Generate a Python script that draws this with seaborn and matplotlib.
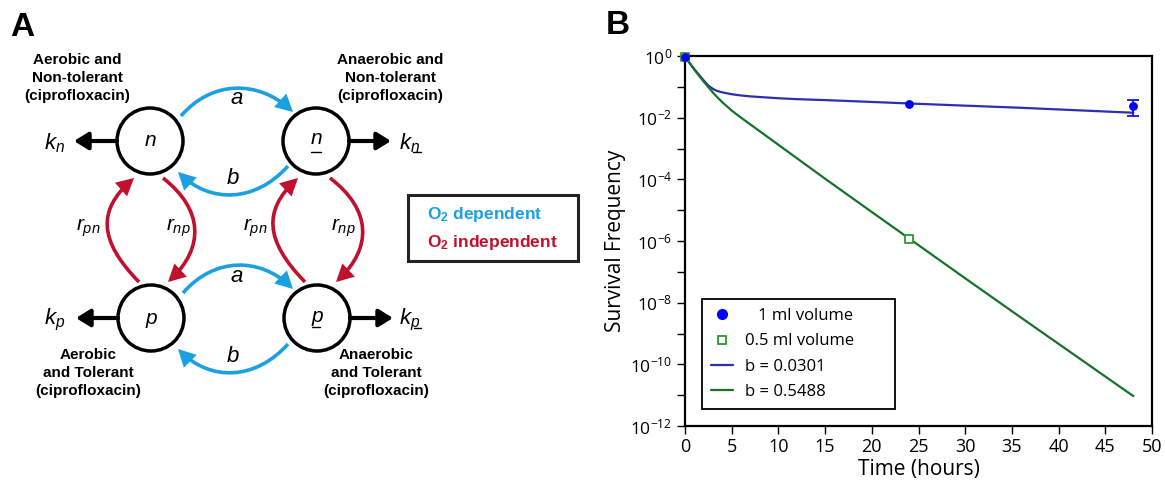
import numpy as np
import pandas as pd
import matplotlib
matplotlib.use("Agg")
import matplotlib.pyplot as plt
import seaborn as sns
from matplotlib.patches import Circle, FancyArrowPatch, Rectangle
from matplotlib.path import Path
from matplotlib.lines import Line2D

# ---------------- data (panel B) ----------------
fit_time = [0, 0.5, 1, 1.5, 2, 2.5, 3, 3.5, 4, 5, 6, 7, 8, 10, 12, 15, 20, 24, 30, 36, 42, 48]
fit_b0301_log10 = [-0.02, -0.23, -0.43, -0.61, -0.79, -0.96, -1.07, -1.14, -1.18, -1.24, -1.28,
                   -1.31, -1.33, -1.37, -1.40, -1.43, -1.49, -1.54, -1.61, -1.68, -1.76, -1.84]
fit_b5488_log10 = [-0.02, -0.23, -0.44, -0.64, -0.83, -1.01, -1.19, -1.35, -1.50, -1.77, -2.00,
                   -2.22, -2.44, -2.88, -3.32, -3.98, -5.06, -5.92, -7.21, -8.49, -9.76, -11.03]
obs_1ml_time = [0, 24, 48]
obs_1ml_surv = [0.95, 0.028, 0.024]
obs_1ml_err = [0.0, 0.0, 0.013]
obs_05ml_time = [0, 24]
obs_05ml_surv = [0.95, 1.2e-6]
x_tick_values = [0, 5, 10, 15, 20, 25, 30, 35, 40, 45, 50]
y_tick_exponents = [0, -1, -2, -3, -4, -5, -6, -7, -8, -9, -10, -11, -12]
legend_labels = ["1 ml volume", "0.5 ml volume", "b = 0.0301", "b = 0.5488"]

# ---------------- style ----------------
sns.set_style("ticks")
plt.rcParams["font.family"] = ["Open Sans", "DejaVu Sans"]
plt.rcParams["mathtext.fontset"] = "custom"
plt.rcParams["mathtext.it"] = "Liberation Sans:italic"
plt.rcParams["mathtext.rm"] = "Liberation Sans"
plt.rcParams["mathtext.bf"] = "Liberation Sans:bold"
for k in ["text.color", "axes.labelcolor", "xtick.color", "ytick.color", "axes.edgecolor"]:
    plt.rcParams[k] = "black"

W, H = 1165, 483
fig = plt.figure(figsize=(W / 100, H / 100), dpi=100)

# ---------------- panel A: diagram (pixel coordinates) ----------------
axd = fig.add_axes([0, 0, 1, 1])
axd.set_xlim(0, W)
axd.set_ylim(H, 0)
axd.axis("off")

BLUE = "#1ba0e0"
RED = "#c0102e"
ARIAL = "Liberation Sans"

axd.text(10, 27, "A", fontsize=24, fontweight="bold", family=ARIAL, va="center", ha="left")
axd.text(606, 26, "B", fontsize=24, fontweight="bold", family=ARIAL, va="center", ha="left")

circles = {"n": (150, 141), "n_": (316, 141), "p": (151, 318), "p_": (317, 318)}
for key, (cx, cy) in circles.items():
    axd.add_patch(Circle((cx, cy), 33, fill=False, lw=2.5, ec="black"))

axd.text(150, 141, "n", family=ARIAL, style="italic", fontsize=15, ha="center", va="center")
axd.text(316, 139, "n", family=ARIAL, style="italic", fontsize=15, ha="center", va="center")
axd.plot([311, 321], [152, 152], color="black", lw=1.0)
axd.text(151, 318, "p", family=ARIAL, style="italic", fontsize=15, ha="center", va="center")
axd.text(317, 316, "p", family=ARIAL, style="italic", fontsize=15, ha="center", va="center")
axd.plot([312, 320], [327, 327], color="black", lw=1.0)


def curve_arrow(verts, color, lw=2.6, hl=0.42, hw=0.22):
    codes = [Path.MOVETO, Path.CURVE4, Path.CURVE4, Path.CURVE4]
    p = FancyArrowPatch(path=Path(verts, codes),
                        arrowstyle=f"-|>,head_length={hl},head_width={hw}",
                        mutation_scale=20, lw=lw, color=color, shrinkA=0, shrinkB=0,
                        joinstyle="miter", capstyle="butt")
    axd.add_patch(p)


# blue O2 dependent arrows
curve_arrow([(181, 116), (212, 80), (258, 80), (293, 112)], BLUE)
curve_arrow([(288, 166), (255, 203), (210, 203), (178, 172)], BLUE)
curve_arrow([(183, 293), (214, 257), (260, 257), (293, 289)], BLUE)
curve_arrow([(288, 344), (255, 381), (210, 381), (178, 349)], BLUE)
# red O2 independent arrows
curve_arrow([(139, 282), (98, 240), (98, 210), (134, 178)], RED)
curve_arrow([(163, 178), (204, 210), (204, 248), (168, 282)], RED)
curve_arrow([(305, 282), (264, 240), (264, 210), (298, 178)], RED)
curve_arrow([(330, 178), (372, 210), (372, 248), (336, 282)], RED)

# black death-rate arrows
for (x0, x1, y) in [(117, 74, 141), (349, 391, 141), (118, 76, 318), (350, 393, 318)]:
    axd.add_patch(FancyArrowPatch((x0, y), (x1, y), arrowstyle="-|>,head_length=0.42,head_width=0.26",
                                  mutation_scale=20, lw=3.0, color="black", shrinkA=0, shrinkB=0))

axd.text(55, 143, "$k_n$", fontsize=16, ha="center", va="center")
axd.text(410, 143, "$k_n$", fontsize=16, ha="center", va="center")
axd.plot([413, 421], [152, 152], color="black", lw=1.0)
axd.text(55, 320, "$k_p$", fontsize=16, ha="center", va="center")
axd.text(410, 320, "$k_p$", fontsize=16, ha="center", va="center")
axd.plot([414, 421], [328, 328], color="black", lw=1.0)

axd.text(237, 98, "$a$", fontsize=16, ha="center", va="center")
axd.text(233, 179, "$b$", fontsize=16, ha="center", va="center")
axd.text(237, 276, "$a$", fontsize=16, ha="center", va="center")
axd.text(233, 356, "$b$", fontsize=16, ha="center", va="center")

for (x, lab) in [(88, "$r_{pn}$"), (178, "$r_{np}$"), (255, "$r_{pn}$"), (343, "$r_{np}$")]:
    axd.text(x, 228, lab, fontsize=15, ha="center", va="center")

bold_kw = dict(family=ARIAL, fontweight="bold", fontsize=11, ha="center", va="center",
               linespacing=1.35)
axd.text(77, 78, "Aerobic and\nNon-tolerant\n(ciprofloxacin)", **bold_kw)
axd.text(390, 78, "Anaerobic and\nNon-tolerant\n(ciprofloxacin)", **bold_kw)
axd.text(88, 373, "Aerobic\nand Tolerant\n(ciprofloxacin)", **bold_kw)
axd.text(376, 373, "Anaerobic\nand Tolerant\n(ciprofloxacin)", **bold_kw)

axd.add_patch(Rectangle((408, 195), 170, 66, fill=False, lw=2.2, ec="#222222"))
axd.text(427, 214, r"$\mathbf{O_2}$ dependent", color=BLUE, fontsize=12.5, family=ARIAL,
         fontweight="bold", ha="left", va="center")
axd.text(427, 242, r"$\mathbf{O_2}$ independent", color=RED, fontsize=12.5, family=ARIAL,
         fontweight="bold", ha="left", va="center")

# ---------------- panel B: survival plot ----------------
L, R, T, B = 685, 1152, 56, 426
ax = fig.add_axes([L / W, (H - B) / H, (R - L) / W, (B - T) / H])

fit_df = pd.DataFrame({
    "time": fit_time * 2,
    "surv": list(np.power(10.0, fit_b0301_log10)) + list(np.power(10.0, fit_b5488_log10)),
    "fit": [legend_labels[2]] * len(fit_time) + [legend_labels[3]] * len(fit_time),
})
LINE_BLUE = "#2b2fb0"
LINE_GREEN = "#157326"
sns.lineplot(data=fit_df, x="time", y="surv", hue="fit",
             palette={legend_labels[2]: LINE_BLUE, legend_labels[3]: LINE_GREEN},
             lw=1.6, ax=ax, legend=False, estimator=None, sort=False)

ax.set_yscale("log")

df05 = pd.DataFrame({"time": obs_05ml_time, "surv": obs_05ml_surv})
sns.scatterplot(data=df05, x="time", y="surv", marker="s", s=38, facecolor="white",
                edgecolor="#2a9a2a", linewidth=1.3, ax=ax, zorder=4, legend=False, clip_on=False)
df1 = pd.DataFrame({"time": obs_1ml_time, "surv": obs_1ml_surv, "err": obs_1ml_err})
de = df1[df1["err"] > 0]
ax.errorbar(de["time"], de["surv"], yerr=de["err"], fmt="none", ecolor="#1010ee",
            elinewidth=1.3, capsize=4.5, capthick=1.3, zorder=5)
sns.scatterplot(data=df1, x="time", y="surv", marker="o", s=40, color="#0000ff",
                edgecolor="#0000ff", linewidth=0, ax=ax, zorder=6, legend=False, clip_on=False)

ax.set_xlim(0, 50)
ax.set_ylim(1e-12, 1)
ax.set_xticks(x_tick_values)
ax.set_xticklabels([str(v) for v in x_tick_values], fontsize=13)
ax.set_yticks([10.0 ** e for e in y_tick_exponents])
ax.set_yticklabels([("$\\mathregular{10^{%d}}$" % e) if e % 2 == 0 else "" for e in y_tick_exponents],
                   fontsize=12.5)
ax.yaxis.set_minor_locator(matplotlib.ticker.NullLocator())
ax.tick_params(axis="both", direction="out", length=6, width=1.0, color="black", pad=3)
for sp in ax.spines.values():
    sp.set_visible(True)
    sp.set_linewidth(1.6)
    sp.set_color("black")
ax.set_xlabel("Time (hours)", fontsize=15, labelpad=2)
ax.set_ylabel("Survival Frequency", fontsize=15)
ax.yaxis.set_label_coords(-0.126, 0.5)

handles = [
    Line2D([], [], marker="o", ls="none", color="#0000ff", markersize=7),
    Line2D([], [], marker="s", ls="none", mfc="white", mec="#2a9a2a", mew=1.3, markersize=6),
    Line2D([], [], color=LINE_BLUE, lw=1.6),
    Line2D([], [], color=LINE_GREEN, lw=1.6),
]
labels = ["   " + legend_labels[0], legend_labels[1], legend_labels[2], legend_labels[3]]
leg = ax.legend(handles, labels, loc="upper left", bbox_to_anchor=(0.036, 0.05, 0.413, 0.293),
                mode="expand", borderaxespad=0, fontsize=12, frameon=True, fancybox=False,
                framealpha=1, edgecolor="black", handlelength=1.3, handletextpad=0.75,
                labelspacing=0.55, borderpad=0.55)
leg.get_frame().set_linewidth(1.3)

fig.savefig("out.png", dpi=100)
